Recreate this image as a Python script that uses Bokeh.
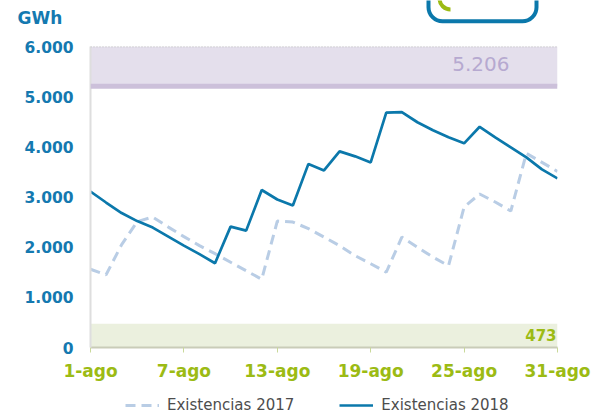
import math
from bokeh.plotting import figure
from bokeh.layouts import column
from bokeh.models import (Range1d, FixedTicker, Span, BoxAnnotation, Label,
                          Legend, LegendItem)
from bokeh.embed import file_html
from bokeh.resources import INLINE

# ---- data (GWh) ----
days = list(range(1, 32))
stock_2017 = [1560, 1450, 2050, 2510, 2600, 2400, 2210, 2030, 1870, 1700,
              1530, 1360, 2520, 2500, 2370, 2200, 2030, 1830, 1670, 1500,
              2200, 2000, 1800, 1630, 2800, 3060, 2900, 2720, 3870, 3690, 3510]
stock_2018 = [3110, 2890, 2680, 2520, 2390, 2210, 2030, 1860, 1680, 2410,
              2330, 3140, 2950, 2830, 3660, 3530, 3910, 3810, 3690, 4680,
              4690, 4490, 4330, 4190, 4070, 4400, 4190, 3990, 3790, 3550, 3370]
x_tick_days = [1, 7, 13, 19, 25, 31]
x_tick_labels = ["1-ago", "7-ago", "13-ago", "19-ago", "25-ago", "31-ago"]
y_ticks = [0, 1000, 2000, 3000, 4000, 5000, 6000]
y_tick_labels = ["0", "1.000", "2.000", "3.000", "4.000", "5.000", "6.000"]
capacity_max = 5206
capacity_top = 6000
minimum_level = 473
series_names = ["Existencias 2017", "Existencias 2018"]
unit_label = "GWh"

BLUE = "#0b78ab"
LABEL_BLUE = "#1479b0"
LIGHT = "#b9cde5"
GREEN = "#9cbb14"
FONT = "DejaVu Sans"


def bare(fig):
    fig.outline_line_color = None
    fig.xgrid.visible = False
    fig.ygrid.visible = False
    fig.frame_align = False
    return fig


# ---- header strip: unit label and (cut) logo ----
hdr = bare(figure(width=596, height=30, x_range=Range1d(0, 596),
                  y_range=Range1d(30, 0), output_backend="svg",
                  toolbar_location=None, min_border=0,
                  x_axis_location=None, y_axis_location=None))
hdr.add_layout(Label(x=17, y=17, text=unit_label, text_align="left",
                     text_baseline="middle", text_font=FONT,
                     text_font_style="bold", text_font_size="17px",
                     text_color=LABEL_BLUE))
hdr.add_layout(BoxAnnotation(left=428, right=536, top=-30, bottom=20.7,
                             fill_alpha=0, line_color=BLUE, line_alpha=1,
                             line_width=4, border_radius=14))
hdr.arc(x=[450], y=[-2], radius=11, start_angle=math.pi,
        end_angle=1.5 * math.pi, line_color=GREEN, line_width=4)

# ---- main chart ----
p = bare(figure(width=596, height=358, x_range=Range1d(1, 31),
                y_range=Range1d(0, capacity_top), output_backend="svg",
                toolbar_location=None, min_border_left=90,
                min_border_right=39, min_border_top=16, min_border_bottom=41))

p.add_layout(BoxAnnotation(bottom=capacity_max, top=capacity_top,
                           fill_color="#e4dfec", fill_alpha=1, line_color=None,
                           level="underlay"))
p.add_layout(BoxAnnotation(bottom=0, top=minimum_level,
                           fill_color="#ebf0de", fill_alpha=1, line_color=None,
                           level="underlay"))
p.add_layout(Span(location=capacity_max, dimension="width",
                  line_color="#ccc0da", line_width=5))
p.add_layout(Span(location=capacity_top, dimension="width",
                  line_color="#a6a6a6", line_width=1.5, line_dash="1 2"))

line17 = dict(line_color=LIGHT, line_width=3, line_dash="10 6")
line18 = dict(line_color=BLUE, line_width=2.7)
p.line(days, stock_2017, **line17)
p.line(days, stock_2018, **line18)

ya = p.yaxis[0]
ya.ticker = FixedTicker(ticks=y_ticks)
ya.major_label_overrides = dict(zip(y_ticks, y_tick_labels))
ya.major_tick_line_color = None
ya.minor_tick_line_color = None
ya.axis_line_color = "#dedede"
ya.axis_line_width = 2
ya.major_label_standoff = 11
ya.major_label_text_font = FONT
ya.major_label_text_font_style = "bold"
ya.major_label_text_font_size = "15.5px"
ya.major_label_text_color = LABEL_BLUE

xa = p.xaxis[0]
xa.ticker = FixedTicker(ticks=x_tick_days)
xa.major_label_overrides = dict(zip(x_tick_days, x_tick_labels))
xa.major_tick_out = 5
xa.major_tick_in = 0
xa.major_tick_line_color = "#c9d99a"
xa.minor_tick_line_color = None
xa.axis_line_color = "#c9ccb8"
xa.axis_line_width = 2
xa.major_label_standoff = 8
xa.major_label_text_font = FONT
xa.major_label_text_font_style = "bold"
xa.major_label_text_font_size = "17px"
xa.major_label_text_color = GREEN

p.add_layout(Label(x=31, y=(capacity_max + capacity_top) / 2,
                   text=f"{capacity_max/1000:.3f}", x_offset=-48, y_offset=2,
                   text_align="right", text_baseline="middle",
                   text_font=FONT, text_font_size="20px",
                   text_color="#b6a9d0"))
p.add_layout(Label(x=31, y=minimum_level / 2, text=str(minimum_level),
                   x_offset=-1, y_offset=1, text_align="right",
                   text_baseline="middle", text_font=FONT,
                   text_font_style="bold", text_font_size="15px",
                   text_color=GREEN))

# ---- legend strip (series drawn out of its range, only keys are seen) ----
lf = bare(figure(width=596, height=27, x_range=Range1d(0, 1),
                 y_range=Range1d(0, 1), output_backend="svg",
                 toolbar_location=None, min_border=0,
                 x_axis_location=None, y_axis_location=None))
k17 = lf.line(days, stock_2017, **line17)
k18 = lf.line(days, stock_2018, **line18)
legend = Legend(items=[LegendItem(label=series_names[0], renderers=[k17]),
                       LegendItem(label=series_names[1], renderers=[k18])],
                orientation="horizontal", location=(125, 1),
                glyph_width=34, glyph_height=16, label_height=16,
                label_standoff=8, spacing=45, padding=0, margin=0,
                border_line_color=None, background_fill_alpha=0,
                label_text_font=FONT, label_text_font_size="15px",
                label_text_color="#4d4d4d")
lf.add_layout(legend)

layout = column(hdr, p, lf, spacing=0)
open("out.html", "w").write(file_html(layout, INLINE))
